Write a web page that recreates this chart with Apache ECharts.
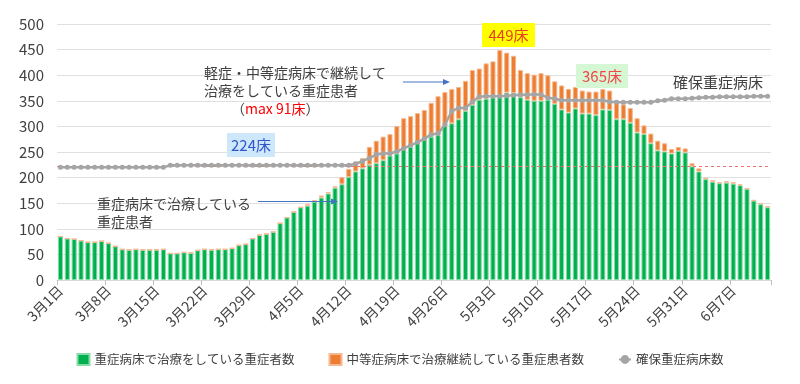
<!DOCTYPE html>
<html><head><meta charset="utf-8">
<script src="https://cdn.jsdelivr.net/npm/echarts@6/dist/echarts.min.js"></script>
<style>html,body{margin:0;padding:0;background:#fff}#c{width:800px;height:384px}</style>
</head><body><div id="c"></div>
<script>
// categories: 3月1日 .. 6月12日 (104 days)
const monthLengths = [[3,31],[4,30],[5,31],[6,12]];
const categories = [];
monthLengths.forEach(([m,n]) => { for (let d = 1; d <= n; d++) categories.push(m + '月' + d + '日'); });

const severeInSevereBeds = [
  85,81,80,77,74,74,76,72,66,60,59,60,59,59,59,60,52,52,54,53,
  58,60,59,60,60,62,68,70,81,88,90,94,111,122,133,142,145,153,161,169,
  180,187,201,212,218,225,228,234,243,247,255,260,268,276,280,283,302,306,314,330,
  342,352,354,357,358,366,365,357,352,350,350,352,344,333,327,335,325,325,322,333,
  332,314,314,307,288,285,267,253,251,247,252,249,222,212,197,192,189,190,188,185,
  178,155,148,142
];
const severeInModerateBeds = [
  0,0,0,0,0,0,0,0,0,0,0,0,0,0,0,0,0,0,0,0,
  0,0,0,0,0,0,0,0,0,0,0,0,0,0,0,0,3,3,4,3,
  3,14,16,19,20,35,44,46,42,54,61,60,58,56,66,76,65,67,63,59,
  68,61,69,70,91,78,73,53,52,51,54,48,44,47,46,42,45,43,46,40,
  38,37,29,29,28,17,19,19,16,9,8,8,6,6,3,3,2,3,3,2,
  1,1,2,2
];
const securedBeds = [
  220,220,220,220,220,220,220,220,220,220,220,220,220,220,220,220,224,224,224,224,
  224,224,224,224,224,224,224,224,224,224,224,224,224,224,224,224,224,224,224,224,
  224,224,224,227,232,238,245,247,247,251,257,263,269,276,284,286,303,330,336,336,
  348,358,359,359,359,360,361,362,362,363,362,356,354,351,351,351,351,351,351,351,
  348,347,347,347,347,347,347,350,351,354,354,354,355,356,357,357,358,358,358,358,
  358,359,359,359
];
const referenceLine = 222;
const yTicks = {min: 0, max: 500, interval: 50};

const textColor = '#404040';
const chart = echarts.init(document.getElementById('c'), null, {renderer: 'canvas'});
const font = '"Noto Sans CJK JP", "Noto Sans", sans-serif';

chart.setOption({
  animation: false,
  textStyle: {fontFamily: font},
  grid: {left: 57, right: 29, top: 24, bottom: 104},
  legend: {
    bottom: 13, left: 'center', itemGap: 34, itemWidth: 12, itemHeight: 11,
    textStyle: {color: textColor, fontSize: 12.5, fontFamily: font},
    data: [
      {name: '重症病床で治療をしている重症者数', icon: 'rect'},
      {name: '中等症病床で治療継続している重症患者数', icon: 'rect'},
      {name: '確保重症病床数'}
    ]
  },
  xAxis: {
    type: 'category', data: categories, boundaryGap: true,
    axisLine: {show: true, lineStyle: {color: '#d9d9d9'}},
    axisTick: {show: true, interval: 6, length: 5, lineStyle: {color: '#bfbfbf'}},
    axisLabel: {interval: 6, rotate: 45, color: textColor, fontSize: 14, margin: 8, fontFamily: font}
  },
  yAxis: {
    type: 'value', min: yTicks.min, max: yTicks.max, interval: yTicks.interval,
    axisLine: {show: false}, axisTick: {show: false},
    axisLabel: {color: textColor, fontSize: 15, margin: 13, fontFamily: font},
    splitLine: {lineStyle: {color: '#e0e0e0'}}
  },
  series: [
    {
      name: '重症病床で治療をしている重症者数', type: 'bar', stack: 'a',
      data: severeInSevereBeds, barCategoryGap: '26%',
      itemStyle: {color: '#00B050', borderColor: '#86dca6', borderWidth: 1},
      markLine: {
        silent: true, symbol: 'none', label: {show: false},
        lineStyle: {color: '#f07070', type: [3, 3], width: 1},
        data: [{yAxis: referenceLine}]
      }
    },
    {
      name: '中等症病床で治療継続している重症患者数', type: 'bar', stack: 'a',
      data: severeInModerateBeds,
      itemStyle: {color: '#ED7D31', borderColor: '#f6b890', borderWidth: 1}
    },
    {
      name: '確保重症病床数', type: 'line', data: securedBeds, z: 5,
      symbol: 'circle', symbolSize: 5, showSymbol: true, showAllSymbol: true,
      lineStyle: {color: '#A5A5A5', width: 2.5},
      itemStyle: {color: '#A5A5A5'}
    }
  ],
  graphic: [
    {type: 'text', z: 100, left: 204, top: 66, style: {text: '軽症・中等症病床で継続して', fill: textColor, font: '14px ' + font}},
    {type: 'text', z: 100, left: 204, top: 84, style: {text: '治療をしている重症患者', fill: textColor, font: '14px ' + font}},
    {type: 'text', z: 100, left: 231, top: 102, style: {
      text: '（{r|max 91床}）', fill: textColor, font: '14px ' + font,
      rich: {r: {fill: '#ff0000', font: '14px ' + font}}}},
    {type: 'line', z: 100, shape: {x1: 403, y1: 82, x2: 446, y2: 82}, style: {stroke: '#4472c4', lineWidth: 1}},
    {type: 'polygon', z: 100, shape: {points: [[450, 82], [443, 79], [443, 85]]}, style: {fill: '#4472c4'}},
    {type: 'text', z: 100, left: 97, top: 197, style: {text: '重症病床で治療している', fill: textColor, font: '14px ' + font}},
    {type: 'text', z: 100, left: 97, top: 215, style: {text: '重症患者', fill: textColor, font: '14px ' + font}},
    {type: 'line', z: 100, shape: {x1: 258, y1: 201.5, x2: 334, y2: 201.5}, style: {stroke: '#4472c4', lineWidth: 1}},
    {type: 'polygon', z: 100, shape: {points: [[338, 201.5], [331, 198.5], [331, 204.5]]}, style: {fill: '#4472c4'}},
    {type: 'text', z: 100, left: 673, top: 75, style: {text: '確保重症病床', fill: textColor, font: '15px ' + font}},
    {type: 'rect', z: 100, shape: {x: 227, y: 133, width: 48, height: 24}, style: {fill: '#cde8fb'}},
    {type: 'text', z: 101, x: 251, y: 145, style: {text: '224床', fill: '#3355cc', font: '15px ' + font, textAlign: 'center', textVerticalAlign: 'middle'}},
    {type: 'rect', z: 100, shape: {x: 482, y: 23, width: 53, height: 24}, style: {fill: '#ffff00'}},
    {type: 'text', z: 101, x: 508.5, y: 35, style: {text: '449床', fill: '#e8401c', font: '15px ' + font, textAlign: 'center', textVerticalAlign: 'middle'}},
    {type: 'rect', z: 100, shape: {x: 576, y: 64, width: 52, height: 24}, style: {fill: '#d6f7d4'}},
    {type: 'text', z: 101, x: 602, y: 76, style: {text: '365床', fill: '#f04848', font: '15px ' + font, textAlign: 'center', textVerticalAlign: 'middle'}}
  ]
});
</script></body></html>
